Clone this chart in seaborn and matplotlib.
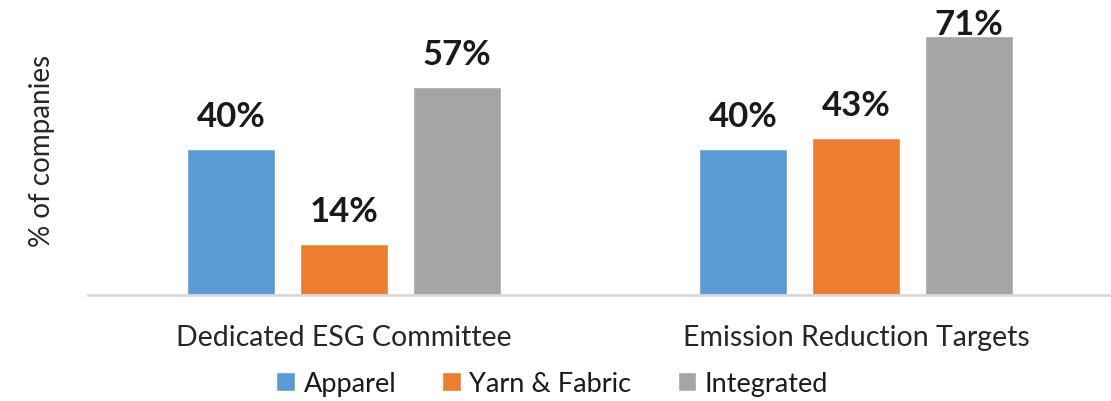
import numpy as np
import pandas as pd
from matplotlib import pyplot as plt
import seaborn as sns

sns.set_style("white")
plt.rcParams['font.family'] = ['Lato', 'DejaVu Sans']

categories = ['Dedicated ESG Committee', 'Emission Reduction Targets']
segments = ['Apparel', 'Yarn & Fabric', 'Integrated']
apparel = [40, 40]
yarn_fabric = [14, 43]
integrated = [57, 71]
palette = ['#5B9BD5', '#ED7D31', '#A5A5A5']

df = pd.DataFrame({
    'category': categories * 3,
    'segment': [s for s in segments for _ in categories],
    'value': apparel + yarn_fabric + integrated,
})

fig = plt.figure(figsize=(11.11, 4.02), dpi=100)
ax = fig.add_axes([88/1111, 106/402, 1024/1111, 296/402])

sns.barplot(data=df, x='category', y='value', hue='segment', hue_order=segments,
            palette=palette, width=0.663, gap=0.22, ax=ax, saturation=1, legend=True)

ymax = 81
# labels sit above the bar; like excel, pushed down when they would leave the chart
for cont in ax.containers:
    for bar in cont:
        h = bar.get_height()
        ax.text(bar.get_x() + bar.get_width()/2, min(h + 6.3, ymax - 9.7), f'{h:.0f}%',
                ha='center', va='baseline', fontsize=25, fontweight='bold',
                color='#1a1a1a', clip_on=False)

ax.set_ylim(0, ymax)
ax.set_xlim(-0.5, 1.5)
ax.set_yticks([])
ax.set_xlabel('')
ax.set_ylabel('% of companies', fontsize=20, color='#262626')
ax.yaxis.set_label_coords(-0.032, 0.49)
ax.tick_params(axis='x', length=0, pad=21, labelsize=20.5, labelcolor='#262626')
for s in ['top', 'right', 'left']:
    ax.spines[s].set_visible(False)
ax.spines['bottom'].set_color('#d9d9d9')
ax.spines['bottom'].set_linewidth(2)

handles, labels = ax.get_legend_handles_labels()
ax.legend_.remove()
fig.legend(handles, labels, loc='center', bbox_to_anchor=(0.497, 0.043), ncol=3,
           frameon=False, fontsize=19.5, handlelength=0.7, handleheight=0.7,
           handletextpad=0.3, columnspacing=1.7, labelcolor='#1a1a1a')

fig.savefig('out.png', dpi=100)
